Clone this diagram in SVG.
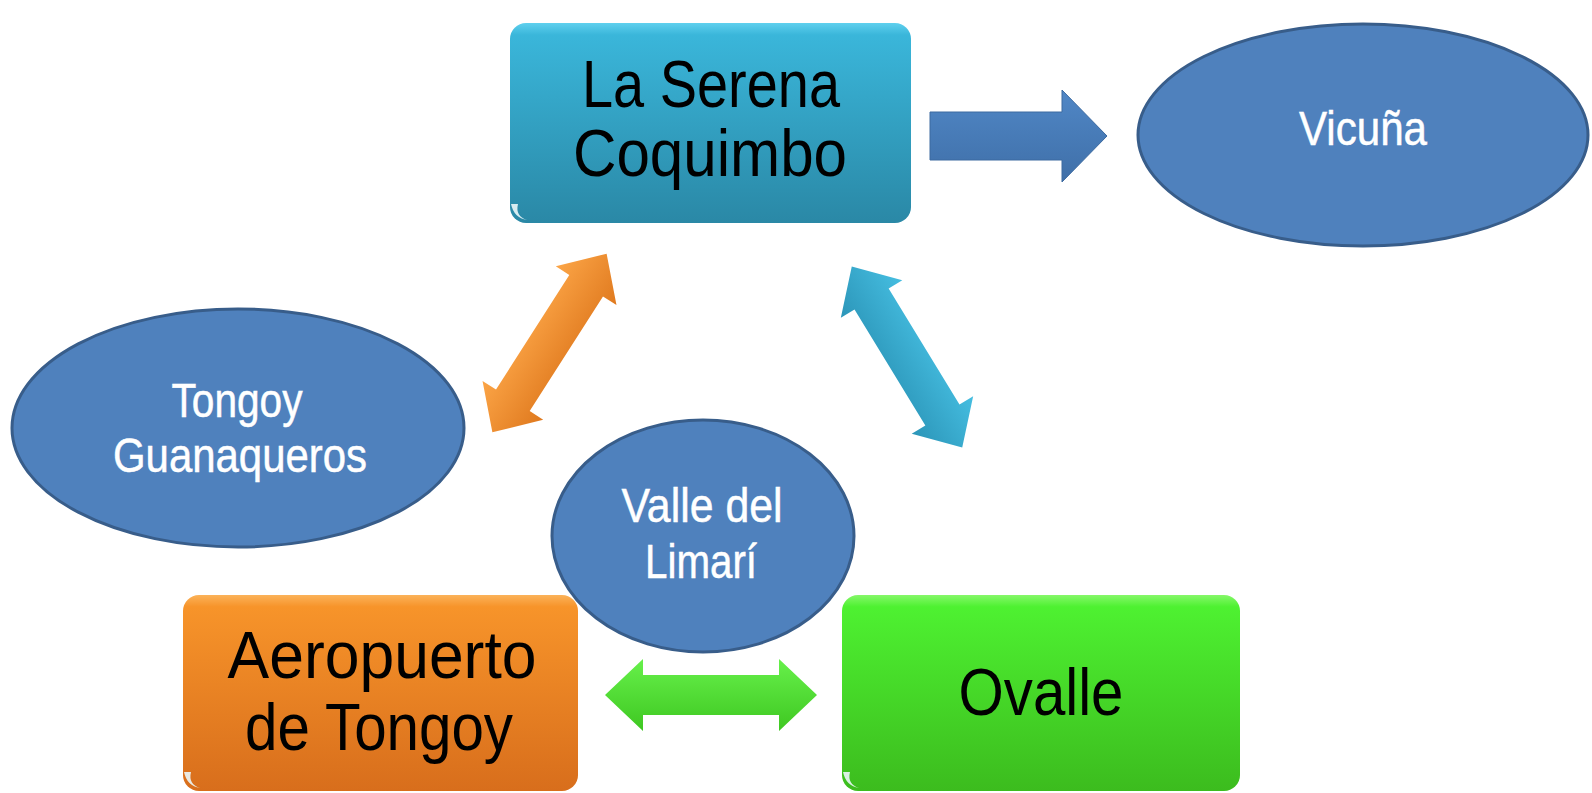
<svg xmlns="http://www.w3.org/2000/svg" width="1592" height="793" viewBox="0 0 1592 793">
<style>
.box-text{font-family:"Liberation Sans",Arial,sans-serif;font-size:66px;fill:#000;text-anchor:middle}
.ell{fill:#4f81bd;stroke:#385d8a;stroke-width:3}
.ell-text{font-family:"Liberation Sans",Arial,sans-serif;font-size:48px;fill:#fff;stroke:#fff;stroke-width:0.5;text-anchor:middle}
.curl{fill:#eaf6f8;opacity:0.9}
</style>
<defs>
<linearGradient id="gTeal" x1="0" y1="0" x2="0" y2="1">
<stop offset="0" stop-color="#5fd0ee"/>
<stop offset="0.06" stop-color="#3ab6da"/>
<stop offset="1" stop-color="#2a88a6"/>
</linearGradient>
<linearGradient id="gOrange" x1="0" y1="0" x2="0" y2="1">
<stop offset="0" stop-color="#fbb259"/>
<stop offset="0.06" stop-color="#f7942a"/>
<stop offset="1" stop-color="#d86e1c"/>
</linearGradient>
<linearGradient id="gGreen" x1="0" y1="0" x2="0" y2="1">
<stop offset="0" stop-color="#86f76a"/>
<stop offset="0.06" stop-color="#4ef131"/>
<stop offset="1" stop-color="#3cbc1e"/>
</linearGradient>
<linearGradient id="aOrange" gradientUnits="userSpaceOnUse" x1="0" y1="-35" x2="0" y2="35">
<stop offset="0" stop-color="#fba446"/>
<stop offset="1" stop-color="#e07a1f"/>
</linearGradient>
<linearGradient id="aTeal" gradientUnits="userSpaceOnUse" x1="0" y1="-35" x2="0" y2="35">
<stop offset="0" stop-color="#45bde0"/>
<stop offset="1" stop-color="#2c96b9"/>
</linearGradient>
<linearGradient id="aGreen" gradientUnits="userSpaceOnUse" x1="0" y1="-35" x2="0" y2="35">
<stop offset="0" stop-color="#66f04a"/>
<stop offset="1" stop-color="#3fc822"/>
</linearGradient>
<linearGradient id="aBlue" x1="0" y1="0" x2="0" y2="1">
<stop offset="0" stop-color="#5087c6"/>
<stop offset="1" stop-color="#3f6fa8"/>
</linearGradient>
<path id="dbl" d="M -106 0 L -68 -36 L -68 -20 L 68 -20 L 68 -36 L 106 0 L 68 36 L 68 20 L -68 20 L -68 36 Z"/>
</defs>

<g id="node-laserena">
<rect x="510" y="23" width="401" height="200" rx="16" fill="url(#gTeal)"/>
<path class="curl" d="M511 204 q3 14 16 16 q-12 -4 -9 -16 z"/>
<text class="box-text" x="711" y="107" textLength="258" lengthAdjust="spacingAndGlyphs">La Serena</text>
<text class="box-text" x="710" y="176" textLength="274" lengthAdjust="spacingAndGlyphs">Coquimbo</text>
</g>

<g id="node-aeropuerto">
<rect x="183" y="595" width="395" height="196" rx="16" fill="url(#gOrange)"/>
<path class="curl" d="M184 772 q3 14 16 16 q-12 -4 -9 -16 z"/>
<text class="box-text" x="382" y="678" textLength="309" lengthAdjust="spacingAndGlyphs">Aeropuerto</text>
<text class="box-text" x="379" y="750" textLength="268" lengthAdjust="spacingAndGlyphs">de Tongoy</text>
</g>

<g id="node-ovalle">
<rect x="842" y="595" width="398" height="196" rx="16" fill="url(#gGreen)"/>
<path class="curl" d="M843 772 q3 14 16 16 q-12 -4 -9 -16 z"/>
<text class="box-text" x="1041" y="715" textLength="165" lengthAdjust="spacingAndGlyphs">Ovalle</text>
</g>

<g id="connectors">
<path d="M930 112 L1062 112 L1062 90 L1107 136 L1062 182 L1062 160 L930 160 Z" fill="url(#aBlue)" stroke="#3c6aa0" stroke-width="1"/>
<use href="#dbl" fill="url(#aOrange)" transform="translate(549.5 343) rotate(-57.4)"/>
<use href="#dbl" fill="url(#aTeal)" transform="translate(907 357) rotate(58.6)"/>
<use href="#dbl" fill="url(#aGreen)" transform="translate(711 695)"/>
</g>

<g id="node-vicuna">
<ellipse class="ell" cx="1363" cy="135" rx="225" ry="111"/>
<text class="ell-text" x="1363" y="145" textLength="128" lengthAdjust="spacingAndGlyphs">Vicuña</text>
</g>

<g id="node-tongoy">
<ellipse class="ell" cx="238" cy="428" rx="226" ry="119"/>
<text class="ell-text" x="237" y="417" textLength="131" lengthAdjust="spacingAndGlyphs">Tongoy</text>
<text class="ell-text" x="240" y="472" textLength="254" lengthAdjust="spacingAndGlyphs">Guanaqueros</text>
</g>

<g id="node-valle">
<ellipse class="ell" cx="703" cy="536" rx="151" ry="116"/>
<text class="ell-text" x="702" y="522" textLength="161" lengthAdjust="spacingAndGlyphs">Valle del</text>
<text class="ell-text" x="701" y="578" textLength="112" lengthAdjust="spacingAndGlyphs">Limarí</text>
</g>
</svg>
